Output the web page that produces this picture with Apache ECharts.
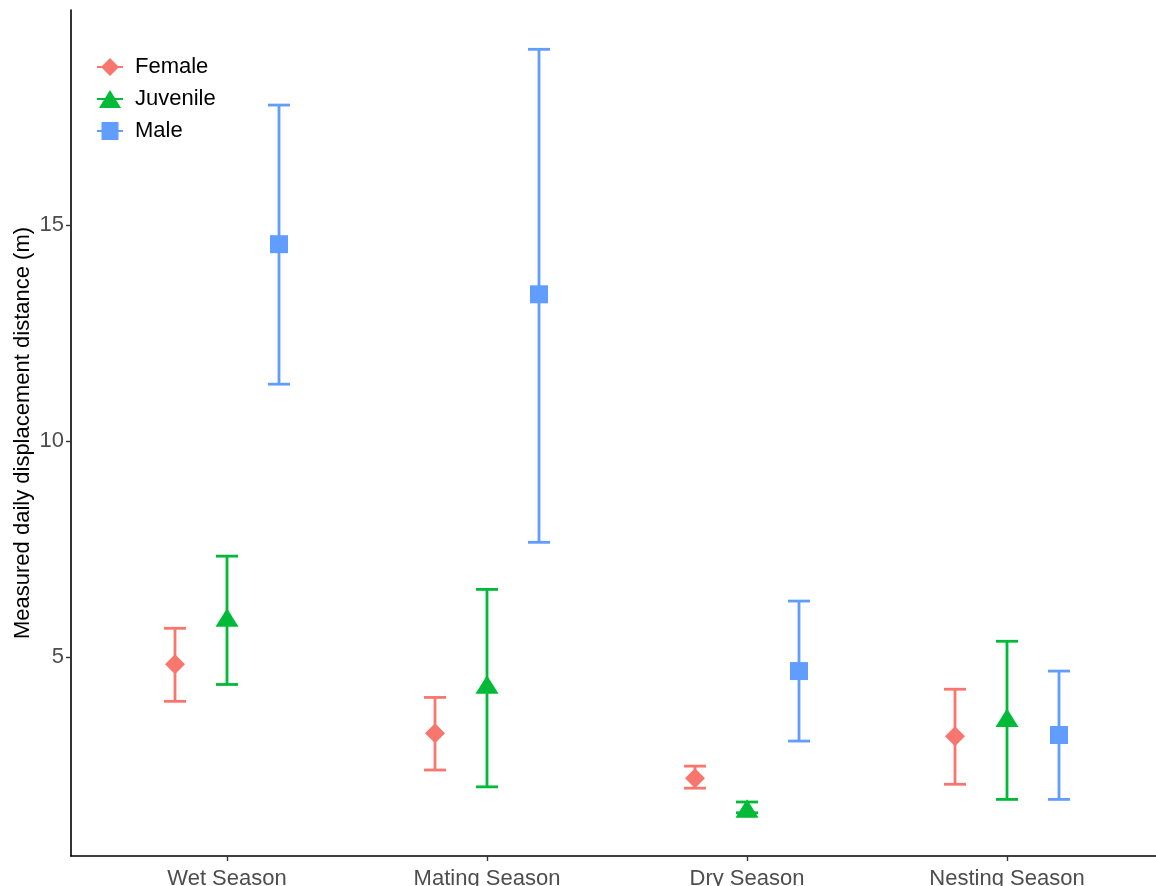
<!DOCTYPE html>
<html>
<head>
<meta charset="utf-8">
<script src="https://cdn.jsdelivr.net/npm/echarts@6/dist/echarts.min.js"></script>
<style>html,body{margin:0;padding:0;background:#fff}#c{width:1156px;height:886px}</style>
</head>
<body>
<div id="c"></div>
<script>
var categories = ['Wet Season', 'Mating Season', 'Dry Season', 'Nesting Season'];
var groups = ['Female', 'Juvenile', 'Male'];
var yTicks = [5, 10, 15];

var femaleMean = [4.84, 3.24, 2.20, 3.17];
var femaleLow  = [3.98, 2.39, 1.97, 2.06];
var femaleHigh = [5.67, 4.07, 2.48, 4.26];

var juvenileMean = [5.88, 4.33, 1.46, 3.56];
var juvenileLow  = [4.37, 2.00, 1.40, 1.71];
var juvenileHigh = [7.34, 6.57, 1.65, 5.37];

var maleMean = [14.56, 13.40, 4.68, 3.20];
var maleLow  = [11.32, 7.66, 3.06, 1.71];
var maleHigh = [17.78, 19.07, 6.30, 4.68];

var colors = {Female: '#F8766D', Juvenile: '#00BA38', Male: '#619CFF'};
var offsets = {Female: -0.2, Juvenile: 0, Male: 0.2};
var FONT = '"Liberation Sans", Arial, sans-serif';

function rows(mean, low, high) {
  return mean.map(function (m, i) { return [i + 1, m, low[i], high[i]]; });
}

function markerShape(kind, cx, cy, color) {
  if (kind === 'Female') {
    return {type: 'polygon', shape: {points: [[cx, cy - 10], [cx + 10, cy], [cx, cy + 10], [cx - 10, cy]]}, style: {fill: color}};
  } else if (kind === 'Juvenile') {
    return {type: 'polygon', shape: {points: [[cx, cy - 11], [cx + 11.5, cy + 7.5], [cx - 11.5, cy + 7.5]]}, style: {fill: color}};
  }
  return {type: 'rect', shape: {x: cx - 9, y: cy - 9, width: 18, height: 18}, style: {fill: color}};
}

function makeRender(kind) {
  var color = colors[kind], off = offsets[kind];
  return function (params, api) {
    var x = api.value(0) + off;
    var m = api.coord([x, api.value(1)]);
    var lo = api.coord([x, api.value(2)]);
    var hi = api.coord([x, api.value(3)]);
    var hw = 11;
    var ls = {stroke: color, lineWidth: 2.8};
    return {
      type: 'group',
      children: [
        {type: 'line', shape: {x1: hi[0], y1: hi[1], x2: lo[0], y2: lo[1]}, style: ls},
        {type: 'line', shape: {x1: hi[0] - hw, y1: hi[1], x2: hi[0] + hw, y2: hi[1]}, style: ls},
        {type: 'line', shape: {x1: lo[0] - hw, y1: lo[1], x2: lo[0] + hw, y2: lo[1]}, style: ls},
        markerShape(kind, m[0], m[1], color)
      ]
    };
  };
}

var seriesData = {
  Female: rows(femaleMean, femaleLow, femaleHigh),
  Juvenile: rows(juvenileMean, juvenileLow, juvenileHigh),
  Male: rows(maleMean, maleLow, maleHigh)
};

var icons = {
  Female: 'path://M0,8 L26,8 L26,10 L0,10 Z M13,0 L22,9 L13,18 L4,9 Z',
  Juvenile: 'path://M0,8 L26,8 L26,10 L0,10 Z M13,0 L24,18 L2,18 Z',
  Male: 'path://M0,8 L26,8 L26,10 L0,10 Z M4.5,0 L21.5,0 L21.5,18 L4.5,18 Z'
};

var chart = echarts.init(document.getElementById('c'), null, {renderer: 'canvas'});
chart.setOption({
  animation: false,
  backgroundColor: '#fff',
  textStyle: {fontFamily: FONT},
  grid: {left: 71, top: 10, right: -7, bottom: 30, containLabel: false, outerBoundsMode: 'none'},
  legend: {
    orient: 'vertical', left: 92, top: 51,
    itemWidth: 26, itemHeight: 18, itemGap: 10,
    textStyle: {fontSize: 22, color: '#000', fontFamily: FONT, padding: [0, 0, 0, 7]},
    data: groups.map(function (g) { return {name: g, icon: icons[g]}; })
  },
  xAxis: {
    type: 'value', min: 0.4, max: 4.6,
    splitLine: {show: false},
    axisLine: {show: true, lineStyle: {color: '#000', width: 1.6}},
    axisTick: {show: true, length: 5, lineStyle: {color: '#333', width: 1.4}, customValues: [1, 2, 3, 4]},
    axisLabel: {
      customValues: [1, 2, 3, 4], margin: 12, fontSize: 22, color: '#4D4D4D', fontFamily: FONT,
      formatter: function (v) { return categories[Math.round(v) - 1] || ''; }
    }
  },
  yAxis: {
    type: 'value', min: 0.4, max: 19.98,
    name: 'Measured daily displacement distance (m)',
    nameLocation: 'middle', nameGap: 37, nameMoveOverlap: false,
    nameTextStyle: {fontSize: 22, color: '#000', fontFamily: FONT},
    splitLine: {show: false},
    axisLine: {show: true, lineStyle: {color: '#000', width: 1.6}},
    axisTick: {show: true, length: 5, lineStyle: {color: '#333', width: 1.4}, customValues: yTicks},
    axisLabel: {customValues: yTicks, margin: 7, fontSize: 22, color: '#4D4D4D', fontFamily: FONT}
  },
  series: groups.map(function (g) {
    return {
      name: g, type: 'custom',
      itemStyle: {color: colors[g]},
      renderItem: makeRender(g),
      encode: {x: 0, y: [1, 2, 3]},
      data: seriesData[g]
    };
  })
});
</script>
</body>
</html>
